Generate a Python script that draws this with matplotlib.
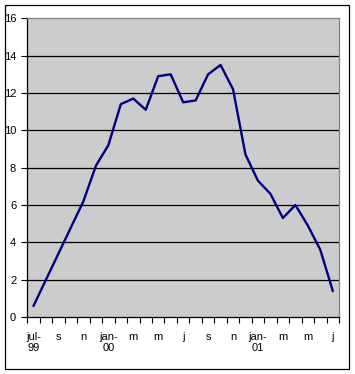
import matplotlib
matplotlib.use("Agg")
import matplotlib.pyplot as plt
from matplotlib.patches import Rectangle

plt.rcParams['font.family'] = ['Liberation Sans', 'DejaVu Sans']

# monthly values, jul-99 .. jul-01
months = ["jul-99", "aug-99", "sep-99", "oct-99", "nov-99", "dec-99",
          "jan-00", "feb-00", "mar-00", "apr-00", "may-00", "jun-00",
          "jul-00", "aug-00", "sep-00", "oct-00", "nov-00", "dec-00",
          "jan-01", "feb-01", "mar-01", "apr-01", "may-01", "jun-01", "jul-01"]
values = [0.6, 2.0, 3.4, 4.8, 6.2, 8.1, 9.2, 11.4, 11.7, 11.1, 12.9, 13.0,
          11.5, 11.6, 13.0, 13.5, 12.2, 8.7, 7.3, 6.6, 5.3, 6.0, 4.9, 3.6, 1.4]
tick_labels = ["jul-\n99", "s", "n", "jan-\n00", "m", "m", "j",
               "s", "n", "jan-\n01", "m", "m", "j"]
y_ticks = [0, 2, 4, 6, 8, 10, 12, 14, 16]

W, H = 355, 374
fig = plt.figure(figsize=(W / 100, H / 100), dpi=100)
fig.patch.set_facecolor("white")

# chart area border
fig.add_artist(Rectangle((5 / W, 5 / H), 344 / W, 364 / H,
                         transform=fig.transFigure, fill=False,
                         edgecolor="black", linewidth=0.9))

ax = fig.add_axes([27.3 / W, 57 / H, (339 - 27.3) / W, (317 - 18.3) / H])
ax.set_facecolor("#cccccc")

x = list(range(len(values)))
ax.plot(x, values, color="#000080", linewidth=1.7, zorder=3)

ax.set_xlim(-0.5, len(values) - 0.5)
ax.set_ylim(0, 16)
ax.set_yticks(y_ticks)
ax.set_yticklabels([str(v) for v in y_ticks])
for v in y_ticks[1:-1]:
    ax.axhline(v, color="black", linewidth=0.9, zorder=1)

ax.set_xticks(x[::2])
ax.set_xticklabels(tick_labels, linespacing=1.1)
ax.set_xticks([i - 0.5 for i in range(len(values) + 1)], minor=True)
ax.tick_params(axis="x", which="major", length=0, pad=11, labelsize=8)
ax.tick_params(axis="x", which="minor", length=4, width=0.8, direction="out")
ax.tick_params(axis="y", length=4, width=0.8, direction="out", pad=4,
               labelsize=8)
for lbl in ax.get_xticklabels():
    lbl.set_verticalalignment("top")
    lbl.set_multialignment("center")

ax.spines["left"].set_color("black")
ax.spines["bottom"].set_color("black")
ax.spines["top"].set_color("#808080")
ax.spines["right"].set_color("#808080")
for s in ax.spines.values():
    s.set_linewidth(0.9)

fig.savefig("out.png", dpi=100)
